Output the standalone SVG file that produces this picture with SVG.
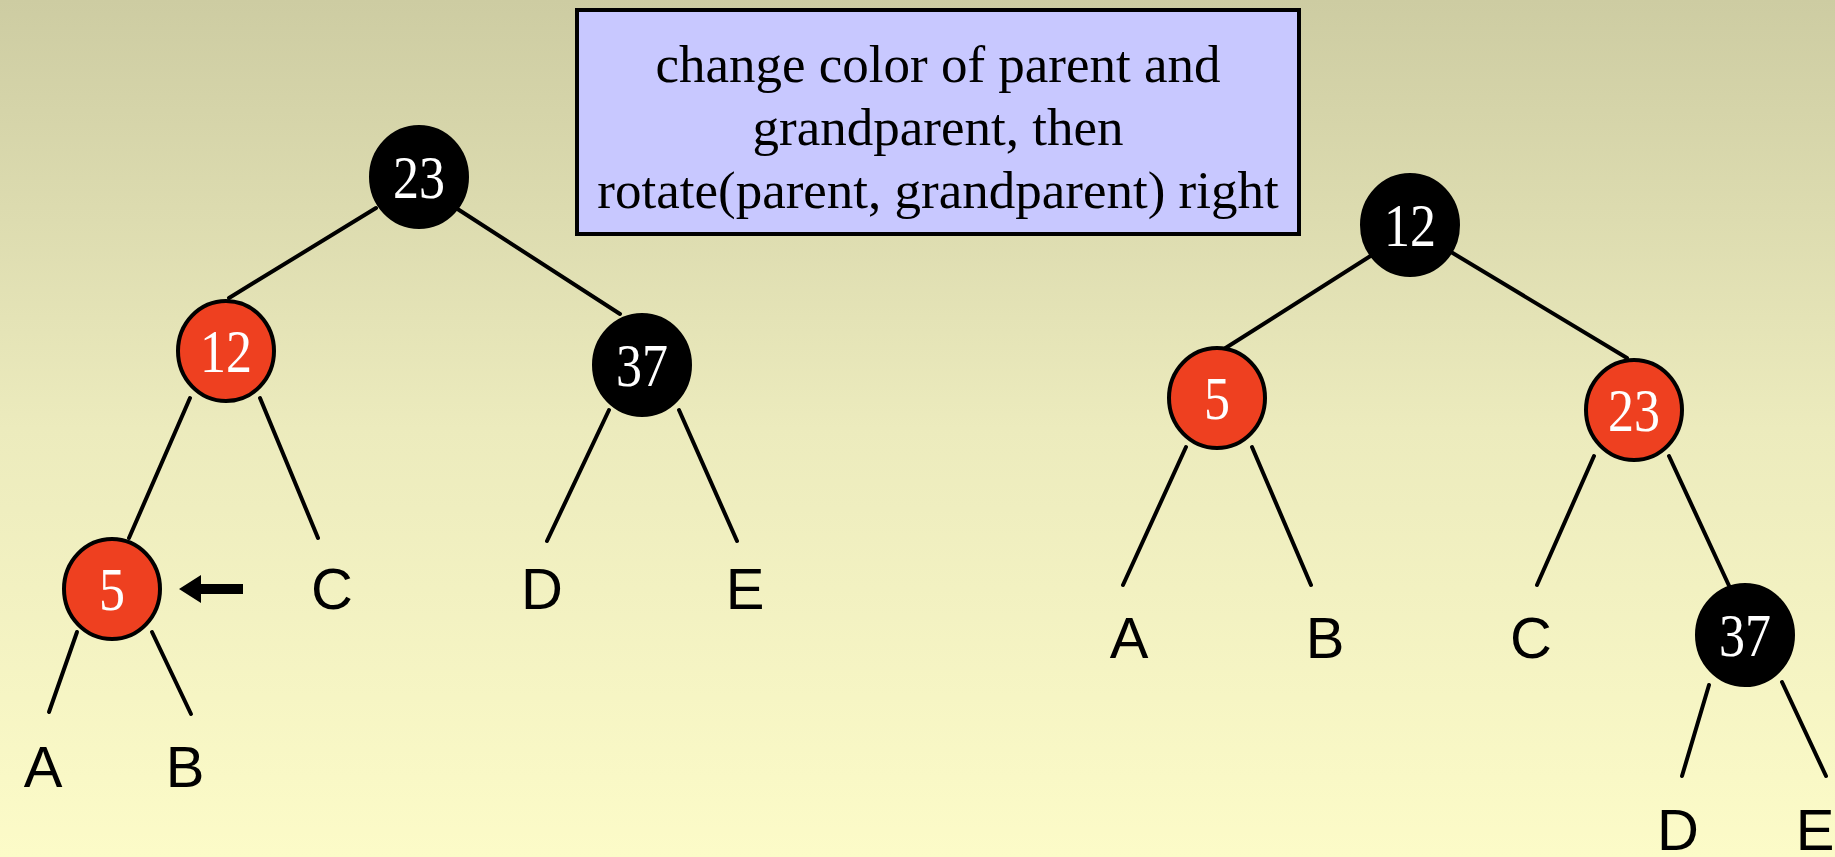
<svg xmlns="http://www.w3.org/2000/svg" width="1835" height="857" viewBox="0 0 1835 857">
<defs>
<linearGradient id="bg" x1="0" y1="0" x2="0" y2="1">
<stop offset="0" stop-color="#cdcca2"/>
<stop offset="0.5" stop-color="#ecebbd"/>
<stop offset="1" stop-color="#fcfbc8"/>
</linearGradient>
<style>
.edge{stroke:#000;stroke-width:4;fill:none;stroke-linecap:round}
.red{fill:#ee4020;stroke:#000;stroke-width:4}
.blk{fill:#000;stroke:#000;stroke-width:4}
.num{font-family:"Liberation Serif","Times New Roman",serif;font-size:62px;fill:#fff;text-anchor:middle}
.leaf{font-family:"Liberation Sans",Arial,sans-serif;font-size:58px;fill:#000;text-anchor:middle}
.note{font-family:"Liberation Serif","Times New Roman",serif;font-size:53px;fill:#000;text-anchor:middle}
</style>
</defs>
<rect width="1835" height="857" fill="url(#bg)"/>

<g id="connectors">
<line class="edge" x1="376" y1="208" x2="229" y2="298"/>
<line class="edge" x1="456" y1="208" x2="620" y2="314"/>
<line class="edge" x1="190" y1="398" x2="129" y2="538"/>
<line class="edge" x1="260" y1="398" x2="318" y2="538"/>
<line class="edge" x1="609" y1="410" x2="547" y2="541"/>
<line class="edge" x1="679" y1="410" x2="737" y2="541"/>
<line class="edge" x1="77" y1="632" x2="49" y2="712"/>
<line class="edge" x1="152" y1="632" x2="191" y2="714"/>
<line class="edge" x1="1372" y1="255" x2="1224" y2="349"/>
<line class="edge" x1="1451" y1="252" x2="1627" y2="358"/>
<line class="edge" x1="1186" y1="447" x2="1123" y2="585"/>
<line class="edge" x1="1252" y1="447" x2="1311" y2="585"/>
<line class="edge" x1="1594" y1="456" x2="1537" y2="585"/>
<line class="edge" x1="1669" y1="456" x2="1731" y2="590"/>
<line class="edge" x1="1709" y1="685" x2="1682" y2="776"/>
<line class="edge" x1="1782" y1="682" x2="1826" y2="776"/>
<polygon points="179,589 201,575 201,584 243,584 243,594 201,594 201,603" fill="#000"/>
</g>

<g id="note">
<rect x="577" y="10" width="722" height="224" fill="#c8c8ff" stroke="#000" stroke-width="4"/>
<text class="note" x="938" y="82">change color of parent and</text>
<text class="note" x="938" y="145">grandparent, then</text>
<text class="note" x="938" y="208">rotate(parent, grandparent) right</text>
</g>

<g id="L23"><ellipse class="blk" cx="419" cy="177" rx="48" ry="50"/><text class="num" x="419" y="198" textLength="52" lengthAdjust="spacingAndGlyphs">23</text></g>
<g id="L12"><ellipse class="red" cx="226" cy="351" rx="48" ry="50"/><text class="num" x="226" y="372" textLength="52" lengthAdjust="spacingAndGlyphs">12</text></g>
<g id="L37"><ellipse class="blk" cx="642" cy="365" rx="48" ry="50"/><text class="num" x="642" y="386" textLength="52" lengthAdjust="spacingAndGlyphs">37</text></g>
<g id="L5"><ellipse class="red" cx="112" cy="589" rx="48" ry="50"/><text class="num" x="112" y="610" textLength="26" lengthAdjust="spacingAndGlyphs">5</text></g>
<g id="LA"><text class="leaf" x="43" y="787">A</text></g>
<g id="LB"><text class="leaf" x="185" y="787">B</text></g>
<g id="LC"><text class="leaf" x="332" y="609">C</text></g>
<g id="LD"><text class="leaf" x="542" y="609">D</text></g>
<g id="LE"><text class="leaf" x="745" y="609">E</text></g>

<g id="R12"><ellipse class="blk" cx="1410" cy="225" rx="48" ry="50"/><text class="num" x="1410" y="246" textLength="52" lengthAdjust="spacingAndGlyphs">12</text></g>
<g id="R5"><ellipse class="red" cx="1217" cy="398" rx="48" ry="50"/><text class="num" x="1217" y="419" textLength="26" lengthAdjust="spacingAndGlyphs">5</text></g>
<g id="R23"><ellipse class="red" cx="1634" cy="410" rx="48" ry="50"/><text class="num" x="1634" y="431" textLength="52" lengthAdjust="spacingAndGlyphs">23</text></g>
<g id="R37"><ellipse class="blk" cx="1745" cy="635" rx="48" ry="50"/><text class="num" x="1745" y="656" textLength="52" lengthAdjust="spacingAndGlyphs">37</text></g>
<g id="RA"><text class="leaf" x="1129" y="658">A</text></g>
<g id="RB"><text class="leaf" x="1325" y="658">B</text></g>
<g id="RC"><text class="leaf" x="1531" y="658">C</text></g>
<g id="RD"><text class="leaf" x="1678" y="850">D</text></g>
<g id="RE"><text class="leaf" x="1815" y="850">E</text></g>
</svg>
